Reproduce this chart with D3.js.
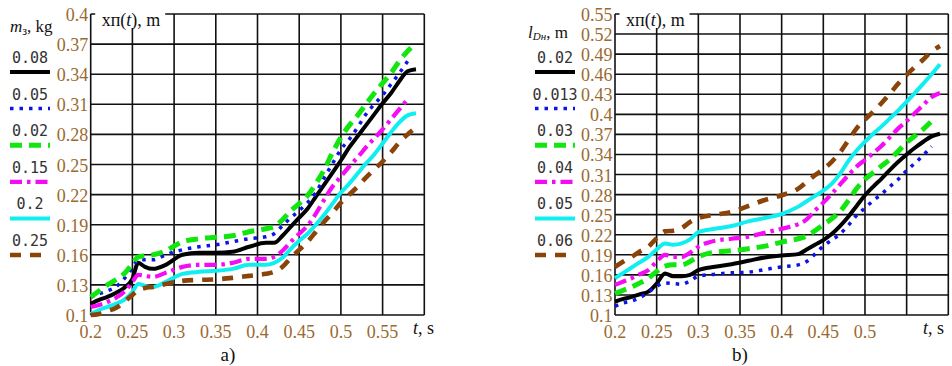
<!DOCTYPE html>
<html>
<head>
<meta charset="utf-8">
<script src="https://cdn.jsdelivr.net/npm/d3@7"></script>
<style>
  body { margin: 0; background: #fff; }
  svg { display: block; }
  .tick-label { font-family: "Liberation Serif", "Times New Roman", serif; font-size: 18px; fill: #9a6a30; }
  .legend-num { font-family: "DejaVu Sans Mono", monospace; font-size: 15px; fill: #333; }
  .serif { font-family: "Liberation Serif", "Times New Roman", serif; fill: #111; }
</style>
</head>
<body>
<svg id="chart" width="952" height="366"></svg>
<script>
// ---- data: panel a) ----
const tA = [0.2, 0.21, 0.22, 0.23, 0.24, 0.25, 0.257, 0.265, 0.275, 0.29, 0.31, 0.33, 0.35, 0.37, 0.39, 0.41, 0.42,
  0.43, 0.44, 0.45, 0.46, 0.47, 0.48, 0.49, 0.5, 0.51, 0.52, 0.53, 0.54, 0.55, 0.56, 0.57, 0.58, 0.59]
const mLabels = ['0.08', '0.05', '0.02', '0.15', '0.2', '0.25']
const aBlack = [0.111, 0.115, 0.118, 0.122, 0.127, 0.136, 0.152, 0.148, 0.146, 0.150, 0.160, 0.162, 0.162, 0.163, 0.168, 0.172, 0.172,
  0.179, 0.188, 0.197, 0.206, 0.218, 0.230, 0.242, 0.254, 0.267, 0.278, 0.289, 0.300, 0.311, 0.321, 0.333, 0.343, 0.345]
const aBlue = [0.118, 0.121, 0.124, 0.128, 0.136, 0.147, 0.155, 0.155, 0.155, 0.160, 0.165, 0.168, 0.170, 0.173, 0.176, 0.178, 0.181,
  0.189, 0.197, 0.204, 0.212, 0.222, 0.237, 0.251, 0.265, 0.275, 0.287, 0.300, 0.310, 0.319, 0.330, 0.341, 0.353, null]
const aGreen = [0.118, 0.124, 0.130, 0.135, 0.141, 0.151, 0.158, 0.159, 0.160, 0.164, 0.173, 0.176, 0.1775, 0.179, 0.183, 0.186, 0.188,
  0.195, 0.204, 0.211, 0.219, 0.231, 0.245, 0.262, 0.277, 0.289, 0.299, 0.310, 0.321, 0.331, 0.341, 0.353, 0.363, 0.371]
const aMagenta = [0.108, 0.110, 0.113, 0.117, 0.123, 0.133, 0.140, 0.139, 0.138, 0.142, 0.148, 0.150, 0.150, 0.152, 0.156, 0.156, 0.158,
  0.164, 0.173, 0.181, 0.189, 0.201, 0.215, 0.228, 0.238, 0.248, 0.257, 0.267, 0.276, 0.285, 0.295, 0.305, 0.315, null]
const aCyan = [0.101, 0.105, 0.108, 0.111, 0.115, 0.123, 0.131, 0.129, 0.128, 0.133, 0.141, 0.143, 0.144, 0.146, 0.150, 0.150, 0.152,
  0.157, 0.166, 0.174, 0.181, 0.190, 0.200, 0.211, 0.222, 0.231, 0.241, 0.251, 0.260, 0.271, 0.282, 0.292, 0.299, 0.301]
const aBrown = [0.100, 0.101, 0.104, 0.107, 0.113, 0.120, 0.125, 0.127, 0.128, 0.131, 0.134, 0.135, 0.1355, 0.137, 0.139, 0.141, 0.143,
  0.148, 0.157, 0.165, 0.173, 0.183, 0.193, 0.202, 0.212, 0.220, 0.228, 0.237, 0.245, 0.253, 0.262, 0.272, 0.280, 0.287]

// ---- data: panel b) ----
const tB = [0.2, 0.21, 0.22, 0.23, 0.24, 0.25, 0.26, 0.27, 0.28, 0.29, 0.3, 0.32, 0.34, 0.36, 0.38, 0.4, 0.42,
  0.43, 0.44, 0.45, 0.46, 0.47, 0.48, 0.49, 0.5, 0.51, 0.52, 0.53, 0.54, 0.55, 0.56, 0.57, 0.58, 0.59]
const lLabels = ['0.02', '0.013', '0.03', '0.04', '0.05', '0.06']
const bBlack = [0.120, 0.124, 0.127, 0.131, 0.135, 0.147, 0.162, 0.158, 0.158, 0.160, 0.167, 0.172, 0.176, 0.181, 0.186, 0.189, 0.191,
  0.198, 0.205, 0.212, 0.221, 0.233, 0.247, 0.263, 0.279, 0.292, 0.304, 0.317, 0.329, 0.340, 0.350, 0.359, 0.367, 0.371]
const bBlue = [0.113, 0.118, 0.121, 0.126, 0.134, 0.143, 0.148, 0.147, 0.146, 0.151, 0.158, 0.161, 0.163, 0.164, 0.168, 0.172, 0.175,
  0.180, 0.191, 0.203, 0.212, 0.221, 0.234, 0.249, 0.260, 0.271, 0.281, 0.292, 0.303, 0.316, 0.327, 0.339, 0.352, null]
const bGreen = [0.132, 0.137, 0.142, 0.148, 0.155, 0.165, 0.173, 0.175, 0.175, 0.180, 0.187, 0.194, 0.196, 0.199, 0.203, 0.209, 0.214,
  0.218, 0.226, 0.235, 0.244, 0.255, 0.271, 0.289, 0.303, 0.313, 0.323, 0.333, 0.345, 0.358, 0.368, 0.378, 0.390, null]
const bMagenta = [0.145, 0.150, 0.155, 0.161, 0.167, 0.180, 0.190, 0.187, 0.187, 0.193, 0.202, 0.211, 0.214, 0.217, 0.223, 0.229, 0.236,
  0.243, 0.256, 0.268, 0.281, 0.295, 0.309, 0.322, 0.332, 0.342, 0.353, 0.366, 0.379, 0.390, 0.402, 0.414, 0.426, 0.432]
const bCyan = [0.155, 0.163, 0.171, 0.179, 0.187, 0.198, 0.207, 0.205, 0.207, 0.213, 0.224, 0.229, 0.233, 0.240, 0.245, 0.251, 0.262,
  0.270, 0.278, 0.286, 0.296, 0.311, 0.330, 0.346, 0.359, 0.371, 0.382, 0.394, 0.406, 0.419, 0.432, 0.446, 0.460, 0.475]
const bBrown = [0.172, 0.180, 0.187, 0.195, 0.202, 0.215, 0.225, 0.226, 0.230, 0.239, 0.245, 0.250, 0.254, 0.263, 0.272, 0.279, 0.289,
  0.299, 0.309, 0.318, 0.329, 0.343, 0.361, 0.379, 0.392, 0.404, 0.417, 0.431, 0.446, 0.459, 0.471, 0.482, 0.494, 0.502]

// ---- ticks ----
const xTicks = [0.2, 0.25, 0.3, 0.35, 0.4, 0.45, 0.5, 0.55, 0.6]
const xLabelsA = ['0.2', '0.25', '0.3', '0.35', '0.4', '0.45', '0.5', '0.55']
const xLabelsB = ['0.2', '0.25', '0.3', '0.35', '0.4', '0.45', '0.5']
const yTicksA = d3.range(0, 11).map(i => +(0.1 + i * 0.03).toFixed(2))
const yTicksB = d3.range(0, 16).map(i => +(0.1 + i * 0.03).toFixed(2))

// trace styles, same order in both panels
const STYLES = [
  { color: '#000000', width: 4, dash: null },
  { color: '#0a14e6', width: 3.5, dash: '3.5,6' },
  { color: '#11e60f', width: 5, dash: '12,7' },
  { color: '#f40cf4', width: 4.2, dash: '12,5,3.5,5' },
  { color: '#10eef0', width: 4, dash: null },
  { color: '#8a4409', width: 4.6, dash: '11,9' },
]

const svg = d3.select('#chart')

const drawPanel = cfg => {
    const { x0, x1, t, series, yTicks, xLabels, yMax } = cfg
    const x = d3.scaleLinear().domain([0.2, 0.6]).range([x0, x1])
    const y = d3.scaleLinear().domain([0.1, yMax]).range([315, 14])
    const g = svg.append('g')

    // grid
    g.selectAll('line.vgrid')
        .data(xTicks)
        .join('line')
        .attr('x1', d => x(d)).attr('x2', d => x(d))
        .attr('y1', y(0.1)).attr('y2', y(yMax))
        .attr('stroke', '#111').attr('stroke-width', 1.6)
    g.selectAll('line.hgrid')
        .data(yTicks)
        .join('line')
        .attr('x1', x(0.2)).attr('x2', x(0.6))
        .attr('y1', d => y(d)).attr('y2', d => y(d))
        .attr('stroke', '#111').attr('stroke-width', 1.6)

    // traces
    const line = d3.line()
        .defined(d => d[1] != null)
        .curve(d3.curveMonotoneX)
        .x(d => x(d[0]))
        .y(d => y(d[1]))
    series.forEach((vals, i) => {
        const st = STYLES[i]
        g.append('path')
            .attr('d', line(t.map((tt, k) => [tt, vals[k]])))
            .attr('fill', 'none')
            .attr('stroke', st.color)
            .attr('stroke-width', st.width)
            .attr('stroke-dasharray', st.dash)
            .attr('stroke-linejoin', 'round')
    })

    // white box behind the y-axis title
    g.append('rect')
        .attr('x', x0 + 4.5).attr('y', 0)
        .attr('width', 70).attr('height', 28)
        .attr('fill', '#fff')
    g.append('text')
        .attr('class', 'serif')
        .attr('x', x0 + 11).attr('y', 26)
        .attr('font-size', 18)
        .html('xп(<tspan font-style="italic">t</tspan>), m')

    // tick labels
    g.selectAll('text.ylab')
        .data(yTicks)
        .join('text')
        .attr('class', 'tick-label')
        .attr('x', x0 - 2.5)
        .attr('y', d => y(d) + 7)
        .attr('text-anchor', 'end')
        .text(d => String(d))
    g.selectAll('text.xlab')
        .data(xLabels)
        .join('text')
        .attr('class', 'tick-label')
        .attr('x', d => x(+d))
        .attr('y', 338)
        .attr('text-anchor', 'middle')
        .text(d => d)
    g.append('text')
        .attr('class', 'serif')
        .attr('x', cfg.tsX).attr('y', 334)
        .attr('font-size', 18)
        .html('<tspan font-style="italic">t</tspan>, s')

    // legend
    const lg = g.append('g')
    lg.append('text')
        .attr('class', 'serif')
        .attr('x', cfg.legX + cfg.titleDx).attr('y', cfg.titleY)
        .attr('font-size', 17)
        .html(cfg.title)
    cfg.labels.forEach((lab, i) => {
        const yy = 57 + i * 36.6
        lg.append('text')
            .attr('class', 'legend-num')
            .attr('x', cfg.legX + 20).attr('y', yy + 6)
            .attr('text-anchor', 'middle')
            .text(lab)
        const st = STYLES[i]
        lg.append('line')
            .attr('x1', cfg.legX).attr('x2', cfg.legX + 40)
            .attr('y1', yy + 15).attr('y2', yy + 15)
            .attr('stroke', st.color)
            .attr('stroke-width', st.width)
            .attr('stroke-dasharray', st.dash)
    })

    g.append('text')
        .attr('class', 'serif')
        .attr('x', cfg.capX).attr('y', 361)
        .attr('font-size', 19)
        .attr('text-anchor', 'middle')
        .text(cfg.caption)
}

drawPanel({
    x0: 90.7, x1: 424.3, t: tA, yMax: 0.4, yTicks: yTicksA, xLabels: xLabelsA,
    series: [aBlack, aBlue, aGreen, aMagenta, aCyan, aBrown],
    labels: mLabels, legX: 10, titleDx: 0, titleY: 32,
    title: '<tspan font-style="italic">m</tspan><tspan font-size="12" dy="3">з</tspan><tspan dy="-3">, kg</tspan>',
    tsX: 413, capX: 228, caption: 'a)'
})
drawPanel({
    x0: 615, x1: 948.3, t: tB, yMax: 0.55, yTicks: yTicksB, xLabels: xLabelsB,
    series: [bBlack, bBlue, bGreen, bMagenta, bCyan, bBrown],
    labels: lLabels, legX: 535, titleDx: -7, titleY: 38,
    title: '<tspan font-style="italic">l</tspan><tspan font-size="11" font-style="italic" dy="2">Dн</tspan><tspan dy="-2">, m</tspan>',
    tsX: 923, capX: 740, caption: 'b)'
})
</script>
</body>
</html>
